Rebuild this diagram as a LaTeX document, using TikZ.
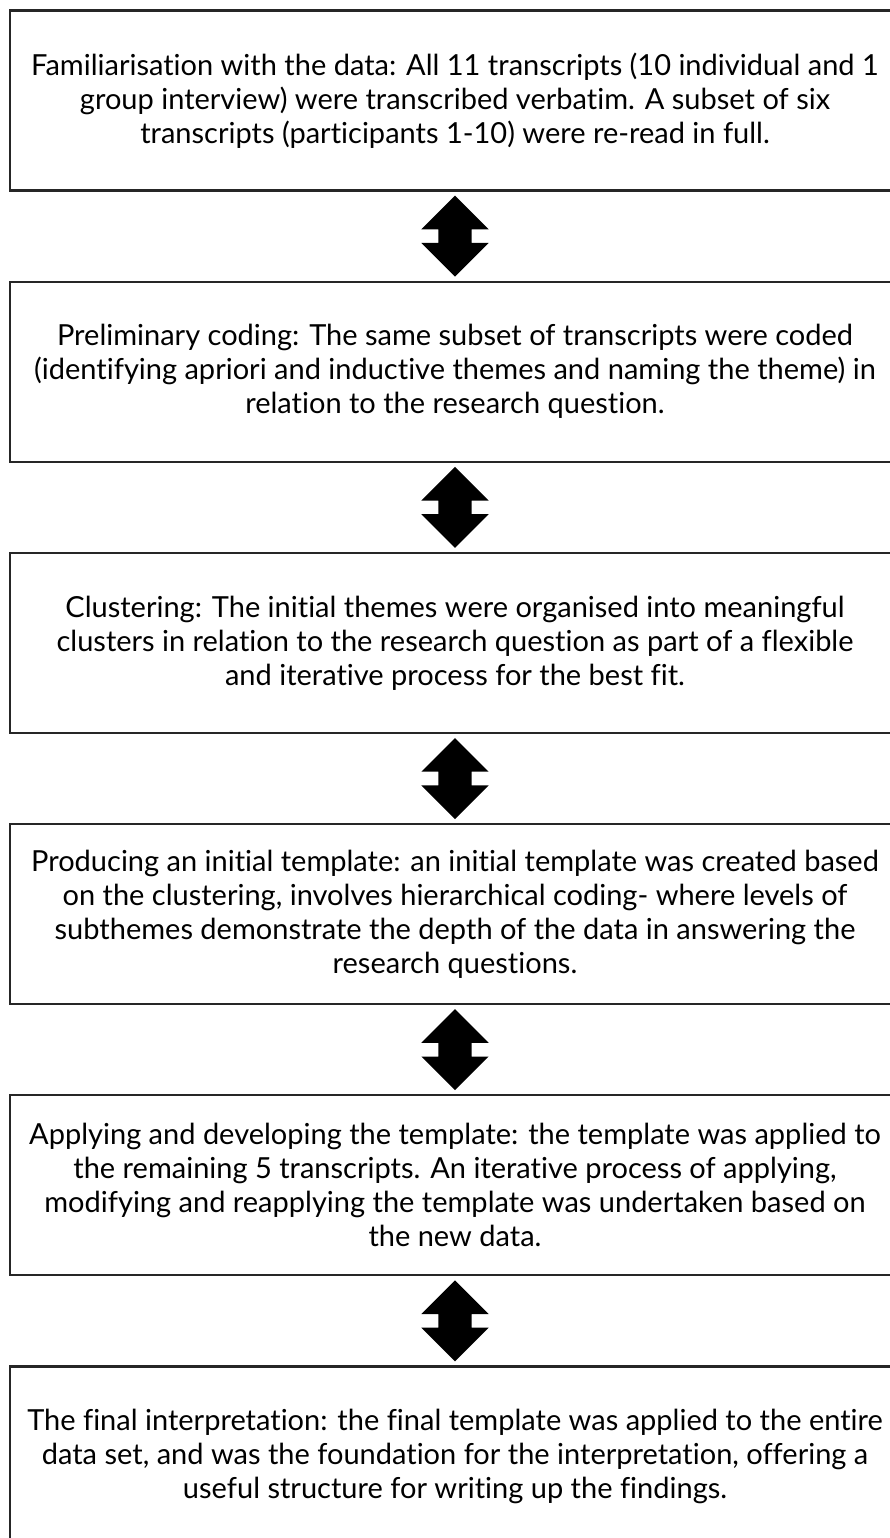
\documentclass[tikz,border=0pt]{standalone}
\usepackage{fontspec}
\setmainfont{Lato}[Ligatures=NoCommon]
\usepackage{tikz}
\usetikzlibrary{shapes.arrows}
\usetikzlibrary{positioning}
\usetikzlibrary{calc}

\tikzset{
  stage/.style={draw=black!85, line width=2.2pt, rectangle, align=center,
    minimum width=890pt, minimum height=180pt, inner sep=0pt,
    font=\fontsize{29}{34}\selectfont},
  updown/.style={shape=double arrow, fill=black, draw=none, inner sep=0pt,
    minimum height=81pt, double arrow head extend=17pt,
    double arrow tip angle=90, rotate=90}
}

\begin{document}
\begin{tikzpicture}[x=1pt,y=1pt]
  \useasboundingbox (0,0) rectangle (890,-1538);
  \node (fam) [stage] at (455,-100.5) {Familiarisation with the data: All 11 transcripts (10 individual and 1\\
    group interview) were transcribed verbatim. A subset of six\\
    transcripts (participants 1-10) were re-read in full.};
  \node (pre) [stage, below=89pt of fam] {Preliminary coding: The same subset of transcripts were coded\\
    (identifying apriori and inductive themes and naming the theme) in\\
    relation to the research question.};
  \node (clu) [stage, below=89pt of pre] {Clustering: The initial themes were organised into meaningful\\
    clusters in relation to the research question as part of a flexible\\
    and iterative process for the best fit.};
  \node (tpl) [stage, below=89pt of clu] {Producing an initial template: an initial template was created based\\
    on the clustering, involves hierarchical coding- where levels of\\
    subthemes demonstrate the depth of the data in answering the\\
    research questions.};
  \node (app) [stage, below=89pt of tpl] {Applying and developing the template: the template was applied to\\
    the remaining 5 transcripts. An iterative process of applying,\\
    modifying and reapplying the template was undertaken based on\\
    the new data.};
  \node (fin) [stage, below=89pt of app] {The final interpretation: the final template was applied to the entire\\
    data set, and was the foundation for the interpretation, offering a\\
    useful structure for writing up the findings.};

  \node (ud1) [updown] at ($(fam.south)!.5!(pre.north)$) {\rule{0pt}{33pt}};
  \node (ud2) [updown] at ($(pre.south)!.5!(clu.north)$) {\rule{0pt}{33pt}};
  \node (ud3) [updown] at ($(clu.south)!.5!(tpl.north)$) {\rule{0pt}{33pt}};
  \node (ud4) [updown] at ($(tpl.south)!.5!(app.north)$) {\rule{0pt}{33pt}};
  \node (ud5) [updown] at ($(app.south)!.5!(fin.north)$) {\rule{0pt}{33pt}};
\end{tikzpicture}
\end{document}
